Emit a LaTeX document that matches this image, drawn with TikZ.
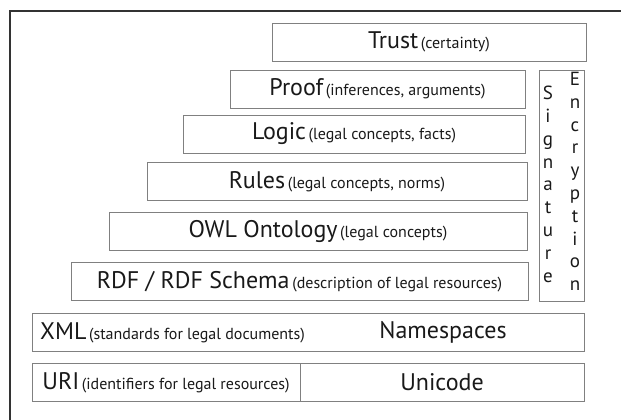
\documentclass[tikz,border=0pt]{standalone}
\usepackage{fontspec}
\setmainfont{PT Sans}
\usepackage{tikz}

\newcommand{\layername}[1]{{\fontsize{24}{28}\selectfont #1}}
\newcommand{\layernote}[1]{{\fontsize{16}{19}\selectfont #1}}

\begin{document}
\begin{tikzpicture}[x=1pt, y=1pt,
    layer/.style={rectangle, draw=black!50, line width=0.8pt, minimum height=38pt, inner sep=0pt, text=black!90},
    letters/.style={align=center, inner sep=0pt, text=black!90, font=\fontsize{19}{22.8}\selectfont}]

    % Page size and the open frame
    \useasboundingbox (0,0) rectangle (621,-420);
    \coordinate (frametop) at (621,-11);
    \coordinate (framecorner) at (10,-11);
    \coordinate (framebottom) at (10,-420);
    \draw[black!80, line width=1.2pt] (frametop) -- (framecorner) -- (framebottom);

    % The stacked layers
    \node[layer, minimum width=314pt] (trust) at (429,-42) {\layername{Trust} \layernote{(certainty)}};
    \node[layer, minimum width=295pt] (proof) at (377.5,-89) {\layername{Proof} \layernote{(inferences, arguments)}};
    \node[layer, minimum width=342pt] (logic) at (354,-134) {\layername{Logic} \layernote{(legal concepts, facts)}};
    \node[layer, minimum width=380pt] (rules) at (337,-181.5) {\layername{Rules} \layernote{(legal concepts, norms)}};
    \node[layer, minimum width=418pt] (owl) at (318,-231) {\layername{OWL Ontology} \layernote{(legal concepts)}};
    \node[layer, minimum width=457pt] (rdf) at (299.5,-281.5) {\layername{RDF / RDF Schema} \layernote{(description of legal resources)}};

    % Signature and encryption column
    \node[layer, minimum width=45pt, minimum height=231pt] (security) at (561.5,-185.5) {};
    \node[letters, anchor=north] (signature) at (548,-86) {S\\i\\g\\n\\a\\t\\u\\r\\e};
    \node[letters, anchor=north] (encryption) at (575,-72) {E\\n\\c\\r\\y\\p\\t\\i\\o\\n};

    % XML and namespaces
    \node[layer, minimum width=552pt] (xml) at (308,-332.5) {};
    \node[anchor=west, inner sep=0pt, text=black!90] (xmltext) at (40,-332.5) {\layername{XML} \layernote{(standards for legal documents)}};
    \node[inner sep=0pt, text=black!90] (namespaces) at (443,-332.5) {\layername{Namespaces}};

    % URI and unicode
    \node[layer, minimum width=268pt] (uri) at (166,-382.5) {\layername{URI} \layernote{(identifiers for legal resources)}};
    \node[layer, minimum width=284pt] (unicode) at (442,-382.5) {\layername{Unicode}};
\end{tikzpicture}
\end{document}
